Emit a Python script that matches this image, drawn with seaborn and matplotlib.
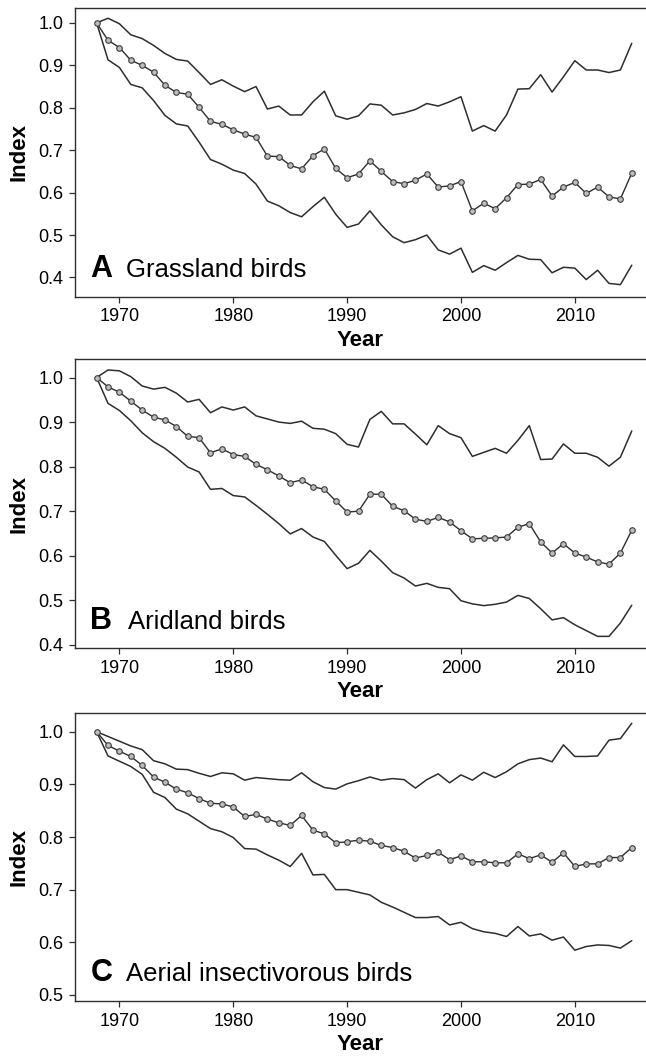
import numpy as np
import pandas as pd
import matplotlib
matplotlib.use('Agg')
import matplotlib.pyplot as plt
import seaborn as sns

years = list(range(1968, 2016))

grass_mid = [1.0, 0.959, 0.942, 0.912, 0.900, 0.884, 0.853, 0.836, 0.832, 0.801,
             0.768, 0.761, 0.748, 0.738, 0.730, 0.686, 0.685, 0.664, 0.656, 0.687,
             0.703, 0.657, 0.635, 0.644, 0.675, 0.650, 0.626, 0.621, 0.629, 0.644,
             0.613, 0.616, 0.626, 0.557, 0.575, 0.562, 0.588, 0.619, 0.620, 0.631,
             0.592, 0.613, 0.624, 0.598, 0.613, 0.590, 0.585, 0.646]
grass_up = [1.0, 1.011, 0.998, 0.972, 0.963, 0.947, 0.928, 0.914, 0.910, 0.883,
            0.855, 0.866, 0.851, 0.838, 0.850, 0.797, 0.804, 0.783, 0.783, 0.814,
            0.839, 0.781, 0.773, 0.781, 0.809, 0.806, 0.783, 0.788, 0.796, 0.810,
            0.804, 0.814, 0.826, 0.745, 0.758, 0.745, 0.783, 0.844, 0.845, 0.878,
            0.837, 0.873, 0.911, 0.889, 0.889, 0.883, 0.889, 0.952]
grass_lo = [1.0, 0.913, 0.895, 0.855, 0.847, 0.817, 0.782, 0.762, 0.757, 0.719,
            0.678, 0.667, 0.653, 0.645, 0.620, 0.580, 0.569, 0.553, 0.543, 0.567,
            0.589, 0.549, 0.518, 0.526, 0.557, 0.524, 0.496, 0.482, 0.489, 0.500,
            0.465, 0.455, 0.469, 0.412, 0.428, 0.417, 0.435, 0.452, 0.443, 0.442,
            0.411, 0.424, 0.422, 0.395, 0.417, 0.386, 0.383, 0.429]

arid_mid = [1.0, 0.979, 0.967, 0.947, 0.927, 0.911, 0.905, 0.890, 0.868, 0.865,
            0.831, 0.840, 0.827, 0.823, 0.805, 0.793, 0.779, 0.764, 0.770, 0.755,
            0.749, 0.723, 0.698, 0.700, 0.738, 0.738, 0.711, 0.701, 0.682, 0.677,
            0.686, 0.676, 0.656, 0.638, 0.639, 0.640, 0.642, 0.664, 0.672, 0.631,
            0.606, 0.627, 0.606, 0.597, 0.586, 0.581, 0.606, 0.657]
arid_up = [1.0, 1.017, 1.015, 1.002, 0.981, 0.974, 0.978, 0.965, 0.945, 0.951,
           0.921, 0.934, 0.927, 0.934, 0.914, 0.907, 0.900, 0.897, 0.902, 0.886,
           0.884, 0.874, 0.850, 0.844, 0.906, 0.924, 0.896, 0.896, 0.873, 0.849,
           0.892, 0.874, 0.865, 0.823, 0.832, 0.841, 0.830, 0.859, 0.892, 0.816,
           0.817, 0.851, 0.830, 0.830, 0.821, 0.801, 0.821, 0.880]
arid_lo = [1.0, 0.942, 0.926, 0.903, 0.876, 0.856, 0.841, 0.821, 0.799, 0.788,
           0.749, 0.751, 0.735, 0.732, 0.713, 0.693, 0.672, 0.649, 0.661, 0.642,
           0.632, 0.601, 0.571, 0.583, 0.612, 0.588, 0.562, 0.550, 0.532, 0.538,
           0.529, 0.526, 0.499, 0.492, 0.488, 0.491, 0.496, 0.511, 0.504, 0.481,
           0.456, 0.461, 0.445, 0.432, 0.419, 0.419, 0.449, 0.489]

aerial_mid = [1.0, 0.974, 0.963, 0.953, 0.936, 0.914, 0.904, 0.891, 0.884, 0.873,
              0.864, 0.863, 0.857, 0.839, 0.843, 0.834, 0.827, 0.822, 0.841, 0.813,
              0.806, 0.789, 0.791, 0.794, 0.792, 0.784, 0.780, 0.773, 0.760, 0.765,
              0.771, 0.757, 0.764, 0.753, 0.753, 0.751, 0.751, 0.768, 0.759, 0.766,
              0.752, 0.770, 0.744, 0.749, 0.749, 0.761, 0.761, 0.780]
aerial_up = [1.0, 0.991, 0.982, 0.973, 0.966, 0.945, 0.939, 0.929, 0.928, 0.921,
             0.915, 0.922, 0.920, 0.908, 0.913, 0.911, 0.909, 0.908, 0.922, 0.905,
             0.894, 0.891, 0.901, 0.907, 0.914, 0.908, 0.911, 0.909, 0.893, 0.909,
             0.920, 0.903, 0.918, 0.908, 0.923, 0.913, 0.924, 0.939, 0.947, 0.950,
             0.943, 0.975, 0.953, 0.953, 0.954, 0.984, 0.987, 1.016]
aerial_lo = [1.0, 0.954, 0.944, 0.934, 0.919, 0.885, 0.875, 0.853, 0.844, 0.830,
             0.816, 0.810, 0.799, 0.778, 0.777, 0.766, 0.756, 0.744, 0.769, 0.728,
             0.729, 0.700, 0.700, 0.695, 0.690, 0.676, 0.667, 0.657, 0.647, 0.647,
             0.649, 0.633, 0.638, 0.626, 0.620, 0.617, 0.611, 0.630, 0.612, 0.616,
             0.604, 0.610, 0.585, 0.592, 0.595, 0.594, 0.589, 0.603]

letters = ['A', 'B', 'C']
titles = ['Grassland birds', 'Aridland birds', 'Aerial insectivorous birds']
x_ticks = [1970, 1980, 1990, 2000, 2010]

sns.set_style('ticks')
plt.rcParams['font.family'] = ['Liberation Sans', 'DejaVu Sans']
plt.rcParams['text.color'] = 'black'
plt.rcParams['axes.labelcolor'] = 'black'
plt.rcParams['xtick.color'] = 'black'
plt.rcParams['ytick.color'] = 'black'

line_col = '#2e2e2e'

fig = plt.figure(figsize=(6.46, 10.61), dpi=100)

# axes boxes: [left, bottom, width, height], y-limits, y-ticks, text offset
panels = [
    dict(box=[0.1161, 0.7205, 0.8839, 0.2719], ylim=(0.355, 1.035),
         yticks=[0.4, 0.5, 0.6, 0.7, 0.8, 0.9, 1.0], tx=0.089,
         mid=grass_mid, up=grass_up, lo=grass_lo),
    dict(box=[0.1161, 0.3893, 0.8839, 0.2721], ylim=(0.393, 1.041),
         yticks=[0.4, 0.5, 0.6, 0.7, 0.8, 0.9, 1.0], tx=0.092,
         mid=arid_mid, up=arid_up, lo=arid_lo),
    dict(box=[0.1161, 0.0568, 0.8839, 0.2714], ylim=(0.489, 1.036),
         yticks=[0.5, 0.6, 0.7, 0.8, 0.9, 1.0], tx=0.090,
         mid=aerial_mid, up=aerial_up, lo=aerial_lo),
]

for i, p in enumerate(panels):
    ax = fig.add_axes(p['box'])
    df = pd.DataFrame({'year': years, 'mid': p['mid'], 'up': p['up'], 'lo': p['lo']})

    sns.lineplot(x='year', y='up', data=df, ax=ax, color=line_col, linewidth=1.1)
    sns.lineplot(x='year', y='lo', data=df, ax=ax, color=line_col, linewidth=1.1)
    sns.lineplot(x='year', y='mid', data=df, ax=ax, color=line_col, linewidth=1.0,
                 marker='o', markersize=4, markerfacecolor='#bdbdbd',
                 markeredgecolor='#3c3c3c', markeredgewidth=0.8)

    ax.set_xlim(1966.1, 2016.25)
    ax.set_ylim(*p['ylim'])
    ax.set_xticks(x_ticks)
    ax.set_yticks(p['yticks'])
    ax.set_yticklabels(['%.1f' % v for v in p['yticks']])
    ax.tick_params(labelsize=13, length=4.5, width=0.9, color=line_col, pad=4)

    ax.set_xlabel('Year', fontsize=16, fontweight='bold', labelpad=3)
    ax.set_ylabel('Index', fontsize=16, fontweight='bold', labelpad=6)

    for side in ['left', 'bottom', 'top']:
        ax.spines[side].set_visible(True)
        ax.spines[side].set_color(line_col)
        ax.spines[side].set_linewidth(1.0)
    ax.spines['right'].set_visible(False)

    ax.text(0.027, 0.067, letters[i], transform=ax.transAxes, fontsize=22,
            fontweight='bold', ha='left', va='baseline')
    ax.text(p['tx'], 0.067, titles[i], transform=ax.transAxes, fontsize=18.5,
            ha='left', va='baseline')

plt.savefig('out.png', dpi=100)
